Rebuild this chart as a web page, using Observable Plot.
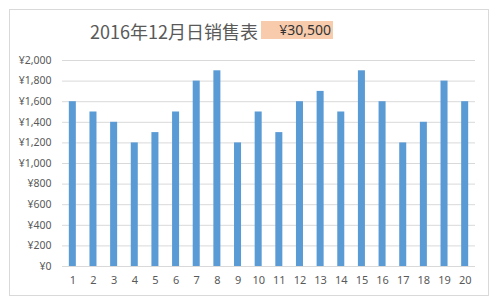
<!DOCTYPE html>
<html><head><meta charset="utf-8">
<script src="https://cdn.jsdelivr.net/npm/d3@7"></script>
<script src="https://cdn.jsdelivr.net/npm/@observablehq/plot@0.6"></script>
<style>
body{margin:0;background:#fff;font-family:"Noto Sans CJK SC","Noto Sans",sans-serif;}
#wrap{position:relative;width:500px;height:307px;overflow:hidden;}
#frame{position:absolute;left:9px;top:9px;width:480px;height:287px;border:1px solid #d9d9d9;box-sizing:border-box;}
#title{position:absolute;left:90px;top:20px;font-size:18px;line-height:22px;color:#595959;white-space:nowrap;}
#total{position:absolute;left:261px;top:21px;width:72px;height:18px;background:#F8CBAD;color:#333;font-size:14px;line-height:18px;text-align:right;box-sizing:border-box;padding-right:2px;font-family:"Noto Sans","Noto Sans CJK SC",sans-serif;}
#chart{position:absolute;left:0;top:40px;}
</style></head>
<body>
<div id="wrap">
  <div id="frame"></div>
  <div id="title">2016年12月日销售表</div>
  <div id="total"></div>
  <div id="chart"></div>
</div>
<script>
const days = [1,2,3,4,5,6,7,8,9,10,11,12,13,14,15,16,17,18,19,20];
const sales = [1600,1500,1400,1200,1300,1500,1800,1900,1200,1500,1300,1600,1700,1500,1900,1600,1200,1400,1800,1600];
const yTicks = [0,200,400,600,800,1000,1200,1400,1600,1800,2000];

const data = days.map((d,i)=>({day:d, value:sales[i]}));
const fmt = v => "¥" + d3.format(",")(v);
document.getElementById("total").textContent = fmt(d3.sum(sales));

const chart = Plot.plot({
  width: 500,
  height: 256,
  marginLeft: 62,
  marginRight: 25,
  marginTop: 20,
  marginBottom: 30,
  style: {fontFamily: "'Noto Sans', sans-serif", fontSize: "11px", color: "#595959", background: "transparent"},
  x: {type: "band", domain: days, paddingInner: 0.66, paddingOuter: 0.33, round: false, label: null},
  y: {domain: [0,2000], ticks: yTicks, label: null},
  marks: [
    Plot.gridY(yTicks, {stroke: "#d9d9d9", strokeOpacity: 1}),
    Plot.barY(data, {x: "day", y: "value", fill: "#5B9BD5"}),
    Plot.axisY(yTicks, {tickSize: 0, tickPadding: 11, tickFormat: fmt, label: null, fill: "#595959", fontSize: 10.5}),
    Plot.axisX({tickSize: 0, tickPadding: 10, label: null, fill: "#595959", fontSize: 11})
  ]
});
document.getElementById("chart").appendChild(chart);
</script>
</body></html>
